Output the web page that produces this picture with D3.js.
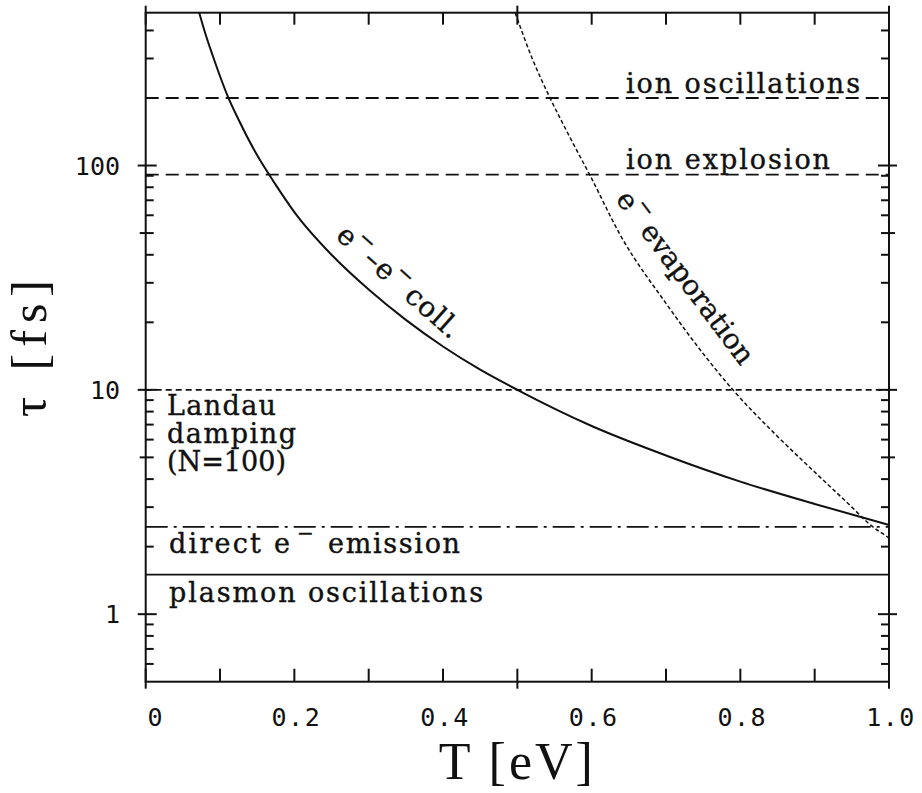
<!DOCTYPE html>
<html><head><meta charset="utf-8">
<script src="https://cdn.jsdelivr.net/npm/d3@7"></script>
<style>
body{margin:0;background:#fff;}
svg{display:block;}
</style></head>
<body>
<div id="chart"></div>
<script>
// ---- data ----
const xTickValues = [0, 0.1, 0.2, 0.3, 0.4, 0.5, 0.6, 0.7, 0.8, 0.9, 1.0];
const xTickLabels = ["0", "0.2", "0.4", "0.6", "0.8", "1.0"];
const xLabelValues = [0, 0.2, 0.4, 0.6, 0.8, 1.0];
const xCrossTicks = [0, 0.5, 1.0];
const yMajorTicks = [1, 10, 100];
const yMajorLabels = ["1", "10", "100"];
const yMediumTicks = [5, 50];
const yMinorTicks = [0.6, 0.7, 0.8, 0.9, 2, 3, 4, 6, 7, 8, 9, 20, 30, 40, 60, 70, 80, 90, 200, 300, 400];

// e- - e- collision time
const eeT   = [0.072, 0.08, 0.09, 0.1, 0.11, 0.125, 0.15, 0.175, 0.2, 0.25, 0.3, 0.35, 0.4, 0.45, 0.5, 0.6, 0.7, 0.8, 0.9, 1.0];
const eeTau = [480, 390, 310, 250, 205, 160, 111, 82, 62, 40, 28, 20.5, 15.6, 12.3, 10, 6.9, 5.1, 3.9, 3.1, 2.5];
// e- evaporation time
const evT   = [0.497, 0.52, 0.544, 0.57, 0.598, 0.64, 0.70, 0.75, 0.79, 0.85, 0.90, 0.95, 0.972, 1.0];
const evTau = [480, 300, 200, 135, 90, 48, 24.3, 14.5, 10, 6.2, 4.3, 3.0, 2.55, 2.19];

// horizontal time-scale lines
const levelNames  = ["ion oscillations", "ion explosion", "Landau damping", "direct emission", "plasmon oscillations"];
const levelValues = [200, 91, 10, 2.45, 1.5];

const xDomain = [0, 1.0];
const yDomain = [0.5, 480];

// ---- drawing ----
const W = 922, H = 793;
const svg = d3.select("#chart").append("svg").attr("width", W).attr("height", H);
const L = 145.7, R = 889, T = 12.7, B = 681.7;
const x = d3.scaleLinear().domain(xDomain).range([L, R]);
const y = d3.scaleLog().domain(yDomain).range([B, T]);

const ink = "#111";
const serif = "'DejaVu Serif', serif";
const mono = "'DejaVu Sans Mono', monospace";

// level lines
const dashes = ["13,7", "13,7", "6,4", "22,6,3,6", null];
levelValues.forEach((v, i) => {
  svg.append("line")
    .attr("x1", x(xDomain[0])).attr("x2", x(xDomain[1]))
    .attr("y1", y(v)).attr("y2", y(v))
    .attr("stroke", ink).attr("stroke-width", 1.8)
    .attr("stroke-dasharray", dashes[i]);
});

// curves
const line = d3.line().x(d => x(d[0])).y(d => y(d[1])).curve(d3.curveMonotoneX);
svg.append("path").datum(eeT.map((t, i) => [t, eeTau[i]]))
  .attr("d", line).attr("fill", "none").attr("stroke", ink).attr("stroke-width", 2);
svg.append("path").datum(evT.map((t, i) => [t, evTau[i]]))
  .attr("d", line).attr("fill", "none").attr("stroke", ink).attr("stroke-width", 1.5)
  .attr("stroke-dasharray", "4,2.5");

// frame
svg.append("rect").attr("x", L).attr("y", T).attr("width", R - L).attr("height", B - T)
  .attr("fill", "none").attr("stroke", ink).attr("stroke-width", 2);

// x ticks (bottom & top)
xTickValues.forEach(v => {
  const cross = xCrossTicks.includes(v);
  svg.append("line").attr("x1", x(v)).attr("x2", x(v))
    .attr("y1", B - 13).attr("y2", cross ? B + 7 : B)
    .attr("stroke", ink).attr("stroke-width", 2);
  svg.append("line").attr("x1", x(v)).attr("x2", x(v))
    .attr("y1", T + 12).attr("y2", cross ? T - 7 : T)
    .attr("stroke", ink).attr("stroke-width", 2);
});
// x tick labels
svg.append("g").selectAll("text").data(xLabelValues).join("text")
  .attr("x", (d, i) => i === 0 ? x(d) + 10 : x(d) + 2)
  .attr("y", 726)
  .attr("text-anchor", "middle")
  .attr("font-family", mono).attr("font-size", 25)
  .attr("letter-spacing", 1.5)
  .attr("fill", ink)
  .text((d, i) => xTickLabels[i]);

// y ticks (left & right)
function yTick(v, outLen, inLen) {
  svg.append("line").attr("x1", L - outLen).attr("x2", L + inLen)
    .attr("y1", y(v)).attr("y2", y(v)).attr("stroke", ink).attr("stroke-width", 2);
  svg.append("line").attr("x1", R + outLen).attr("x2", R - inLen)
    .attr("y1", y(v)).attr("y2", y(v)).attr("stroke", ink).attr("stroke-width", 2);
}
yMajorTicks.forEach(v => yTick(v, 8, 11));
yMediumTicks.forEach(v => yTick(v, 6, 8));
yMinorTicks.forEach(v => yTick(v, 0, 8));

svg.append("g").selectAll("text").data(yMajorTicks).join("text")
  .attr("x", 120).attr("y", d => y(d) + 9)
  .attr("text-anchor", "end")
  .attr("font-family", mono).attr("font-size", 25)
  .attr("fill", ink)
  .text((d, i) => yMajorLabels[i]);

// axis titles
svg.append("text").attr("x", x(0.5)).attr("y", 779)
  .attr("text-anchor", "middle").attr("font-family", "'Liberation Serif', serif")
  .attr("font-size", 52).attr("letter-spacing", 3).attr("fill", ink)
  .text("T [eV]");
svg.append("text").attr("transform", "translate(46,345) rotate(-90)")
  .attr("text-anchor", "middle").attr("font-family", "'Liberation Serif', serif")
  .attr("font-size", 50).attr("letter-spacing", 7).attr("fill", ink)
  .text("τ [fs]");

// in-plot labels
function label(txt, px, py, len) {
  const t = svg.append("text").attr("x", px).attr("y", py)
    .attr("font-family", serif).attr("font-size", 27).attr("fill", ink)
    .attr("stroke", ink).attr("stroke-width", 0.4);
  if (len) t.attr("textLength", len).attr("lengthAdjust", "spacing");
  t.text(txt);
  return t;
}
label("ion oscillations", 626, 93, 234);
label("ion explosion", 626, 169, 204);
label("Landau", 167, 415, 109);
label("damping", 167, 443, 129);
label("(N=100)", 167, 471, 119);
label("direct e", 169, 553, 121);
label("−", 297, 540, 14).attr("font-size", 20);
label("emission", 328, 553, 132);
label("plasmon oscillations", 169, 602, 314);

// rotated curve labels
const ec = svg.append("text").attr("transform", "translate(393,289) rotate(41.5)")
  .attr("text-anchor", "middle").attr("font-family", serif).attr("font-size", 28).attr("fill", ink)
  .attr("stroke", ink).attr("stroke-width", 0.4).attr("letter-spacing", 1);
ec.append("tspan").text("e");
ec.append("tspan").attr("dy", -13).attr("font-size", 21).text("−");
ec.append("tspan").attr("dy", 13).text("–e");
ec.append("tspan").attr("dy", -13).attr("font-size", 21).text("−");
ec.append("tspan").attr("dy", 13).attr("dx", 4).text("coll.");

const ev = svg.append("text").attr("transform", "translate(678,283) rotate(53)")
  .attr("text-anchor", "middle").attr("font-family", serif).attr("font-size", 28).attr("fill", ink)
  .attr("stroke", ink).attr("stroke-width", 0.4);
ev.append("tspan").text("e");
ev.append("tspan").attr("dy", -13).attr("font-size", 21).text("−");
ev.append("tspan").attr("dy", 13).attr("dx", 6).text("evaporation");
</script>
</body></html>
